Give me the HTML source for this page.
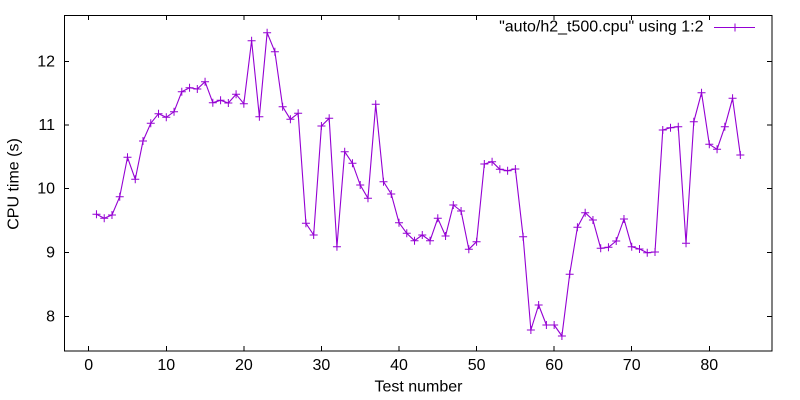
<!DOCTYPE html>
<html>
<head>
<meta charset="utf-8">
<style>
html,body{margin:0;padding:0;background:#fff;}
svg{display:block;}
text{font-family:"Liberation Sans",Arial,sans-serif;font-size:16px;fill:#000;}
</style>
</head>
<body>
<svg width="800" height="400" viewBox="0 0 800 400" xmlns="http://www.w3.org/2000/svg">
<defs>
<marker id="plus" viewBox="-5 -5 10 10" refX="0" refY="0" markerWidth="10" markerHeight="10" markerUnits="userSpaceOnUse" overflow="visible">
<path d="M-4,0 H4 M0,-4 V4" stroke="#9400d3" stroke-width="1" fill="none"/>
</marker>
</defs>
<rect x="0" y="0" width="800" height="400" fill="#fff"/>

<!-- ticks -->
<g stroke="#000" stroke-width="1" shape-rendering="crispEdges">
<!-- y ticks left & right -->
<path d="M64,61.5 h5 M64,125 h5 M64,188.5 h5 M64,252.5 h5 M64,316.5 h5"/>
<path d="M772,61.5 h-5 M772,125 h-5 M772,188.5 h-5 M772,252.5 h-5 M772,316.5 h-5"/>
<!-- x ticks bottom & top -->
<path d="M88.7,351 v-5 M166.3,351 v-5 M243.9,351 v-5 M321.4,351 v-5 M399,351 v-5 M476.6,351 v-5 M554.2,351 v-5 M631.7,351 v-5 M709.3,351 v-5"/>
<path d="M88.7,15 v5 M166.3,15 v5 M243.9,15 v5 M321.4,15 v5 M399,15 v5 M476.6,15 v5 M554.2,15 v5 M631.7,15 v5 M709.3,15 v5"/>
<!-- frame -->
<rect x="64.5" y="15.5" width="707.5" height="335.5" fill="none"/>
</g>

<!-- y tick labels -->
<g text-anchor="end">
<text x="55" y="66.5">12</text>
<text x="55" y="130">11</text>
<text x="55" y="193.5">10</text>
<text x="55" y="257.5">9</text>
<text x="55" y="321.5">8</text>
</g>
<!-- x tick labels -->
<g text-anchor="middle">
<text x="88.7" y="370">0</text>
<text x="166.3" y="370">10</text>
<text x="243.9" y="370">20</text>
<text x="321.4" y="370">30</text>
<text x="399" y="370">40</text>
<text x="476.6" y="370">50</text>
<text x="554.2" y="370">60</text>
<text x="631.7" y="370">70</text>
<text x="709.3" y="370">80</text>
</g>

<text x="418.5" y="391.5" text-anchor="middle">Test number</text>
<text transform="translate(18.5,184) rotate(-90)" text-anchor="middle">CPU time (s)</text>

<!-- legend -->
<text x="703.5" y="31.5" text-anchor="end">"auto/h2_t500.cpu" using 1:2</text>
<polyline points="714,27.5 735,27.5 755,27.5" fill="none" stroke="#9400d3" stroke-width="1" marker-mid="url(#plus)"/>

<!-- data -->
<polyline fill="none" stroke="#9400d3" stroke-width="1.1" stroke-linejoin="round"
marker-start="url(#plus)" marker-mid="url(#plus)" marker-end="url(#plus)"
points="96.46,214.3 104.22,218.3 111.97,215 119.73,196.7 127.49,157.3 135.25,179.3 143.0,141 150.76,123.3 158.52,113.7 166.28,117.3 174.03,111.7 181.79,91.7 189.55,87.7 197.31,89 205.06,81.7 212.82,102.7 220.58,100.3 228.34,103 236.09,94.3 243.85,103.7 251.61,40.7 259.37,116.7 267.12,32.7 274.88,51.7 282.64,106.7 290.40,119.3 298.15,113.3 305.91,223.3 313.67,235 321.43,126 329.18,118.3 336.94,246.7 344.70,151.7 352.46,163.3 360.21,185 367.97,198.3 375.73,104.3 383.49,181.7 391.24,194 399.0,222.7 406.76,233.3 414.52,240.7 422.27,235 430.03,240.7 437.79,218.3 445.55,236 453.30,205 461.06,211 468.82,249.3 476.58,241.7 484.33,164 492.09,161.7 499.85,169.3 507.61,170.7 515.36,169 523.12,236.7 530.88,330 538.64,305 546.39,325 554.15,325 561.91,336 569.67,274.3 577.42,227.3 585.18,212.7 592.94,220 600.70,248.3 608.45,247.3 616.21,241 623.97,219 631.73,246.7 639.48,249 647.24,252.7 655.0,252 662.76,130 670.51,127.7 678.27,126.7 686.03,243.3 693.79,121.7 701.54,92.7 709.30,144.3 717.06,149.3 724.82,126.7 732.57,98.3 740.33,155"/>
</svg>
</body>
</html>
